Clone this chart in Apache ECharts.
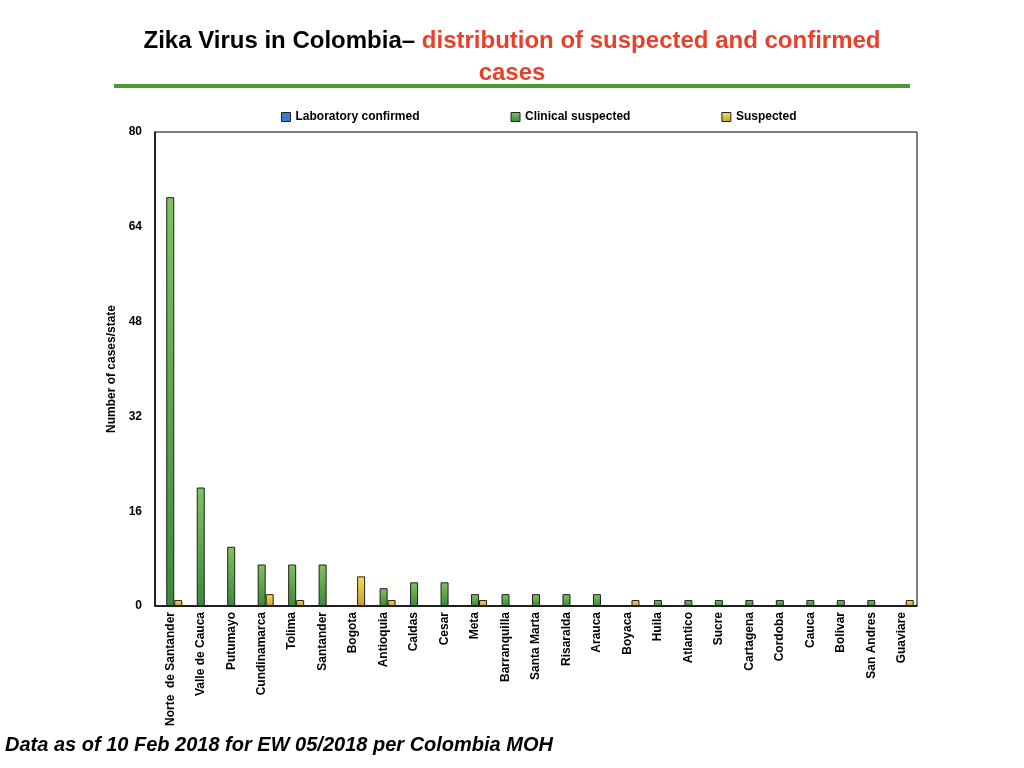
<!DOCTYPE html>
<html>
<head>
<meta charset="utf-8">
<title>Zika Virus in Colombia</title>
<script src="https://cdn.jsdelivr.net/npm/echarts@6/dist/echarts.min.js"></script>
<style>
  html, body { margin: 0; padding: 0; background: #fff; }
  #chart { width: 1024px; height: 768px; }
</style>
</head>
<body>
<div id="chart"></div>
<script>
var departments = ['Norte  de Santander', 'Valle de Cauca', 'Putumayo', 'Cundinamarca', 'Tolima',
  'Santander', 'Bogota', 'Antioquia', 'Caldas', 'Cesar', 'Meta', 'Barranquilla', 'Santa Marta',
  'Risaralda', 'Arauca', 'Boyaca', 'Huila', 'Atlantico', 'Sucre', 'Cartagena', 'Cordoba',
  'Cauca', 'Bolivar', 'San Andres', 'Guaviare'];
var labConfirmed = [0, 0, 0, 0, 0, 0, 0, 0, 0, 0, 0, 0, 0, 0, 0, 0, 0, 0, 0, 0, 0, 0, 0, 0, 0];
var clinicalSuspected = [69, 20, 10, 7, 7, 7, 0, 3, 4, 4, 2, 2, 2, 2, 2, 0, 1, 1, 1, 1, 1, 1, 1, 1, 0];
var suspected = [1, 0, 0, 2, 1, 0, 5, 1, 0, 0, 1, 0, 0, 0, 0, 1, 0, 0, 0, 0, 0, 0, 0, 0, 1];
var yTicks = [0, 16, 32, 48, 64, 80];

var chart = echarts.init(document.getElementById('chart'));

function grad(top, bottom) {
  return new echarts.graphic.LinearGradient(0, 0, 0, 1, [
    { offset: 0, color: top },
    { offset: 1, color: bottom }
  ]);
}

var font = 'Liberation Sans, Arial, Helvetica, sans-serif';

var option = {
  animation: false,
  textStyle: { fontFamily: font },
  title: {
    left: 'center',
    top: 20,
    text: '{a|Zika Virus in Colombia– }{b|distribution of suspected and confirmed}\n{b|cases}',
    textStyle: {
      rich: {
        a: { color: '#000', fontSize: 24, fontWeight: 'bold', fontFamily: font, lineHeight: 32 },
        b: { color: '#e8402a', fontSize: 24, fontWeight: 'bold', fontFamily: font, lineHeight: 32 }
      }
    }
  },
  graphic: [
    {
      type: 'rect',
      shape: { x: 114, y: 84, width: 796, height: 4 },
      style: { fill: '#4b9a32' }
    },
    {
      type: 'text',
      left: 5,
      top: 735,
      style: {
        text: 'Data as of 10 Feb 2018 for EW 05/2018 per Colombia MOH',
        fill: '#000',
        font: 'italic bold 20px ' + font
      }
    }
  ],
  legend: {
    left: 276,
    top: 106,
    itemWidth: 9,
    itemHeight: 9,
    itemGap: 91,
    icon: 'rect',
    textStyle: { fontSize: 12, fontWeight: 'bold', color: '#000' },
    itemStyle: { borderColor: '#222', borderWidth: 1 },
    data: ['Laboratory confirmed', 'Clinical suspected', 'Suspected']
  },
  grid: {
    left: 155,
    right: 107,
    top: 132,
    bottom: 162,
    show: true,
    borderColor: '#000',
    borderWidth: 1
  },
  xAxis: {
    type: 'category',
    data: departments,
    axisLine: { lineStyle: { color: '#000', width: 1.5 } },
    axisTick: { show: false },
    axisLabel: {
      interval: 0,
      rotate: 90,
      color: '#000',
      fontSize: 12,
      fontWeight: 'bold',
      margin: 6
    }
  },
  yAxis: {
    type: 'value',
    min: 0,
    max: 80,
    interval: 16,
    name: 'Number of cases/state',
    nameLocation: 'middle',
    nameGap: 35,
    nameTextStyle: { fontSize: 12, fontWeight: 'bold', color: '#000' },
    axisLine: { show: true, lineStyle: { color: '#000', width: 1.5 } },
    axisTick: { show: false },
    splitLine: { show: false },
    axisLabel: {
      color: '#000',
      fontSize: 12,
      fontWeight: 'bold',
      margin: 13,
      formatter: function (v) { return yTicks.indexOf(v) >= 0 ? v : ''; }
    }
  },
  series: [
    {
      name: 'Laboratory confirmed',
      type: 'bar',
      data: labConfirmed,
      barWidth: 8,
      barGap: '0%',
      itemStyle: { color: '#3b7bd6', borderWidth: 0 }
    },
    {
      name: 'Clinical suspected',
      type: 'bar',
      data: clinicalSuspected,
      barWidth: 8,
      barGap: '0%',
      itemStyle: { color: grad('#82c25e', '#3a8a3c'), borderColor: '#1f1f1f', borderWidth: 1 }
    },
    {
      name: 'Suspected',
      type: 'bar',
      data: suspected,
      barWidth: 8,
      barGap: '0%',
      itemStyle: { color: grad('#f3de52', '#c6a22e'), borderColor: '#1f1f1f', borderWidth: 1 }
    }
  ]
};

chart.setOption(option);
</script>
</body>
</html>
